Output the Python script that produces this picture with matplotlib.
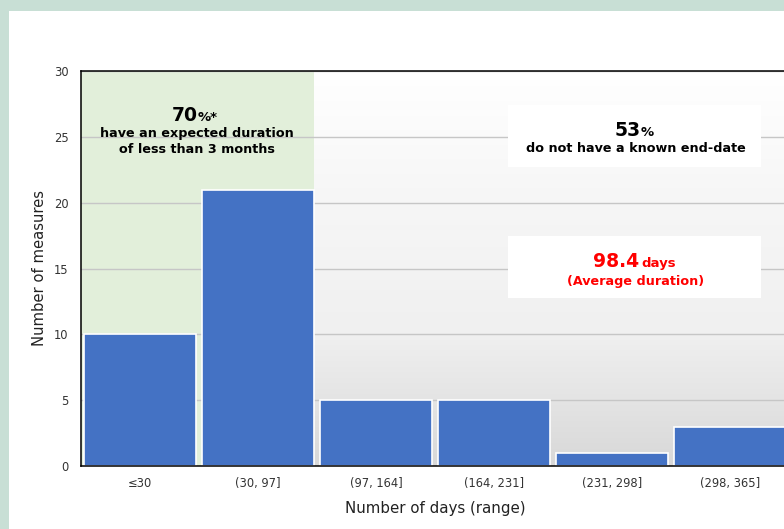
import numpy as np
import matplotlib.pyplot as plt
from matplotlib.patches import Rectangle
from matplotlib.colors import LinearSegmentedColormap

# data
categories = ["≤30", "(30, 97]", "(97, 164]", "(164, 231]", "(231, 298]", "(298, 365]"]
counts = [10, 21, 5, 5, 1, 3]
short_share = "70"
no_end_share = "53"
avg_days = "98.4"

BLUE = "#4472c4"
GREEN = "#e2efda"
FRAME = "#c8dfd5"

fig = plt.figure(figsize=(7.84, 5.29), dpi=100, facecolor=FRAME)
# white panel inside the coloured frame
fig.patches.append(Rectangle((9 / 784, 0), 1, 1 - 11 / 529, transform=fig.transFigure,
                             facecolor="white", edgecolor="none", zorder=-10))

ax = fig.add_axes([81 / 784, 63 / 529, 708 / 784, 395 / 529])
ax.set_facecolor("none")
x = np.arange(len(categories))
ax.set_xlim(-0.5, len(categories) - 0.5)
ax.set_ylim(0, 30)

# gradient background of the plot area
grad = LinearSegmentedColormap.from_list("bg", ["#d8d8d8", "#f0f0f0", "#f6f6f6", "#ffffff"])
ax.imshow(np.linspace(0, 1, 256).reshape(-1, 1), cmap=grad, aspect="auto", origin="lower",
          extent=(-0.5, len(categories) - 0.5, 0, 30), zorder=0)

ax.set_yticks(range(0, 31, 5))
ax.yaxis.grid(True, color="#c6c6c6", linewidth=1)
for gl in ax.get_ygridlines():
    gl.set_zorder(0.5)

# green highlight over the first two ranges
ax.add_patch(Rectangle((-0.5, 0), 1.975, 30, facecolor=GREEN, edgecolor="none", zorder=1))

ax.bar(x, counts, width=0.95, color=BLUE, edgecolor="white", linewidth=1.2, zorder=2)

ax.set_xticks(x)
ax.set_xticklabels(categories)
ax.tick_params(axis="both", labelsize=8.3, colors="#333333", length=0, pad=8)
ax.tick_params(axis="y", pad=9)
for s in ["left", "bottom", "top"]:
    ax.spines[s].set_color("black")
    ax.spines[s].set_linewidth(1.1)
    ax.spines[s].set_zorder(3)
ax.spines["right"].set_visible(False)

ax.set_ylabel("Number of measures", fontsize=10.6, color="#222222", labelpad=5)
ax.set_xlabel("Number of days (range)", fontsize=10.8, color="#222222", labelpad=7.5)

# annotation boxes
ax.add_patch(Rectangle((3.12, 22.7), 2.14, 4.7, facecolor="white", edgecolor="none", zorder=1.8))
ax.add_patch(Rectangle((3.12, 12.75), 2.14, 4.75, facecolor="white", edgecolor="none", zorder=1.8))

kw = dict(va="baseline", fontweight="bold", zorder=4)
ax.text(0.49, 26.2, short_share, ha="right", fontsize=13.5, color="black", **kw)
ax.text(0.49, 26.2, "%*", ha="left", fontsize=9.5, color="black", **kw)
ax.text(0.48, 24.98, "have an expected duration", ha="center", fontsize=9.2, color="black", **kw)
ax.text(0.48, 23.77, "of less than 3 months", ha="center", fontsize=9.2, color="black", **kw)

ax.text(4.24, 25.06, no_end_share, ha="right", fontsize=13.5, color="black", **kw)
ax.text(4.24, 25.06, "%", ha="left", fontsize=9.5, color="black", **kw)
ax.text(4.2, 23.84, "do not have a known end-date", ha="center", fontsize=9.2, color="black", **kw)

ax.text(4.23, 15.1, avg_days, ha="right", fontsize=13.5, color="#ff0000", **kw)
ax.text(4.25, 15.1, "days", ha="left", fontsize=9.5, color="#ff0000", **kw)
ax.text(4.2, 13.74, "(Average duration)", ha="center", fontsize=9.2, color="#ff0000", **kw)

fig.savefig("out.png", dpi=100, facecolor=FRAME)
